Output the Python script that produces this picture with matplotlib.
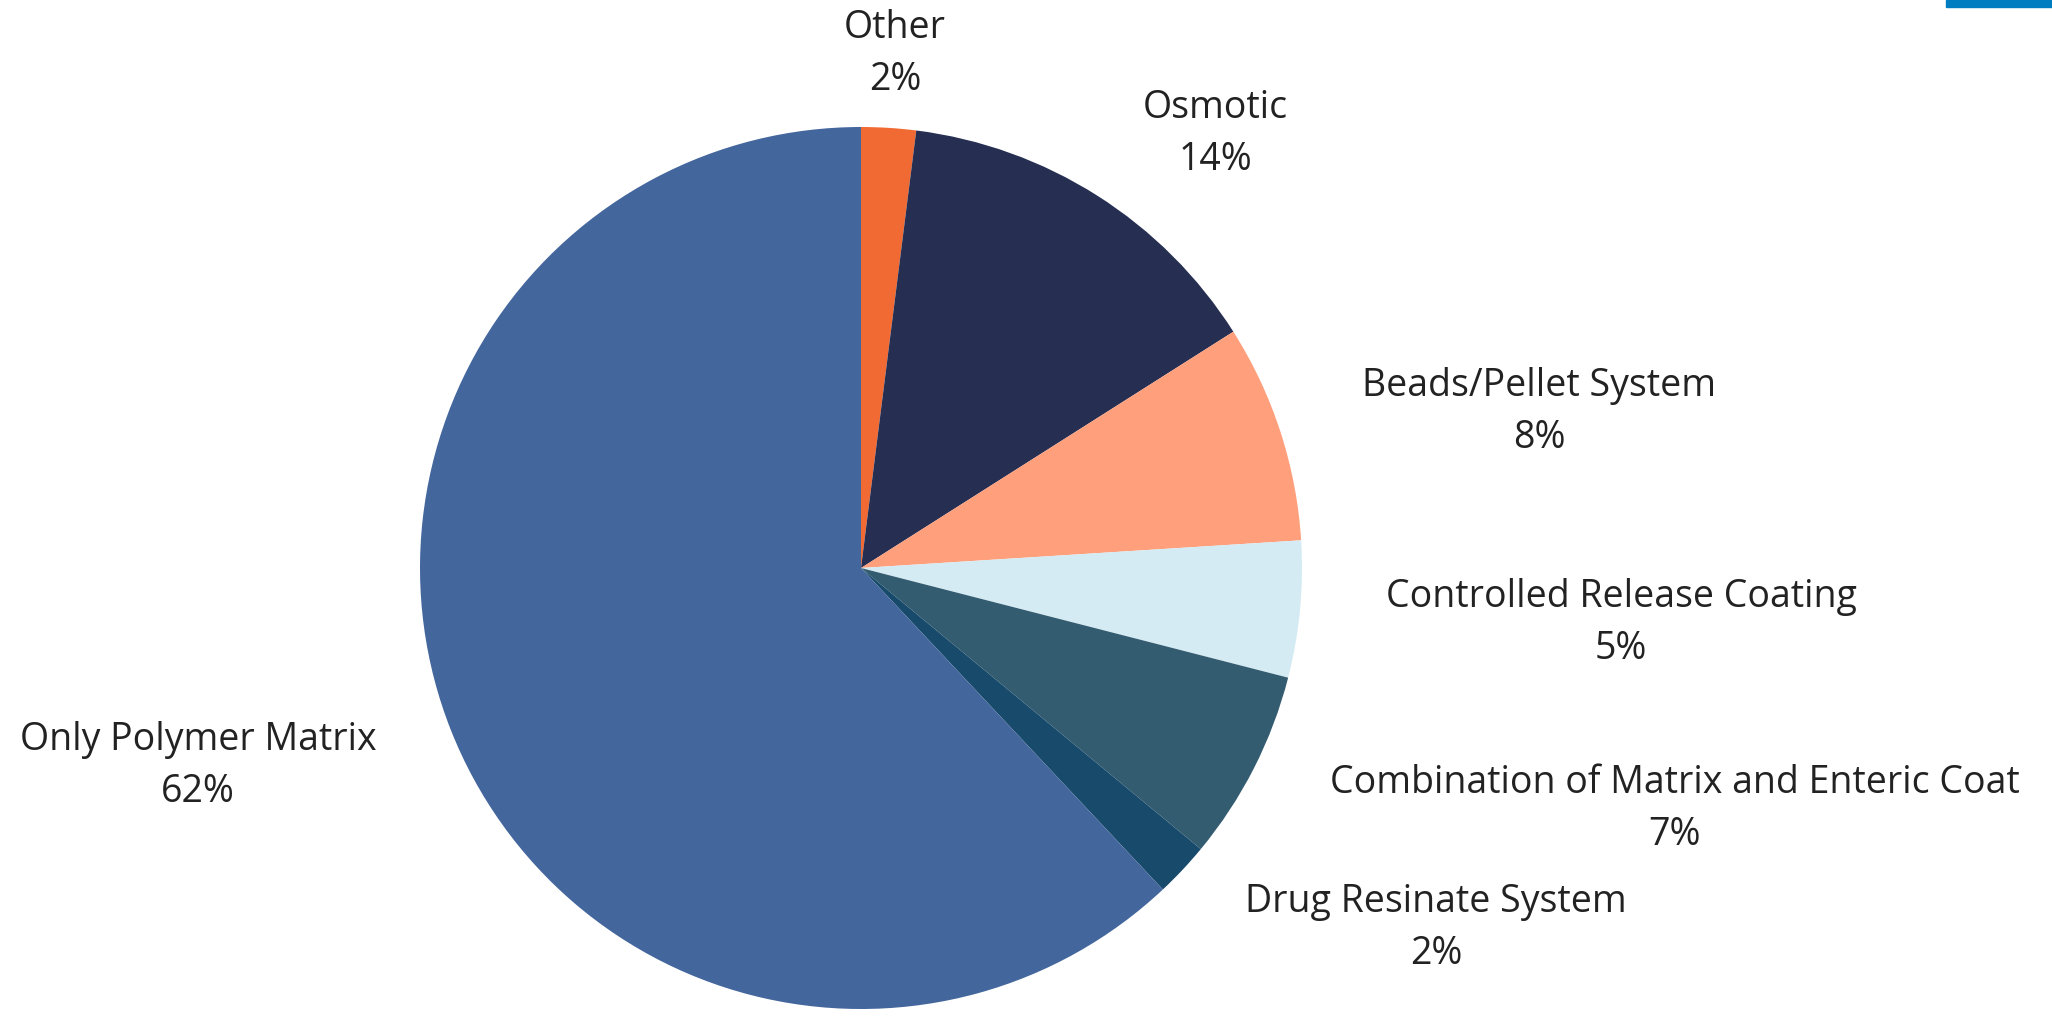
import matplotlib.pyplot as plt
from matplotlib.patches import Rectangle

labels = ['Other', 'Osmotic', 'Beads/Pellet System', 'Controlled Release Coating',
          'Combination of Matrix and Enteric Coat', 'Drug Resinate System',
          'Only Polymer Matrix']
shares = [2, 14, 8, 5, 7, 2, 62]
colors = ['#F26A33', '#262F52', '#FF9F7B', '#D4EBF3', '#345C71', '#184A6B', '#43669D']

# label centres in pixel space (x, y from top)
label_pos = [(895, 54), (1215, 134), (1539, 412), (1621, 623),
             (1675, 809), (1436, 928), (198, 766)]

W, H = 2052, 1016
plt.rcParams['font.family'] = ['Open Sans', 'DejaVu Sans']

fig = plt.figure(figsize=(W / 100, H / 100), dpi=100)
ax = fig.add_axes([0, 0, 1, 1])

ax.pie(shares, colors=colors, startangle=90, counterclock=False,
       center=(861, H - 568), radius=441, frame=True,
       wedgeprops=dict(linewidth=0, antialiased=True))
ax.set_xlim(0, W)
ax.set_ylim(0, H)
ax.set_aspect('equal')
ax.axis('off')

for name, val, (x, y) in zip(labels, shares, label_pos):
    ax.text(x, H - y, f'{name}\n{val}%', ha='center', va='center',
            fontsize=27, color='#222222', linespacing=1.5)

# thin accent bar in the top-right corner
ax.add_patch(Rectangle((1946, H - 7), W - 1946, 7, color='#007CC0', clip_on=False))

fig.savefig('out.png', dpi=100, facecolor='white')
